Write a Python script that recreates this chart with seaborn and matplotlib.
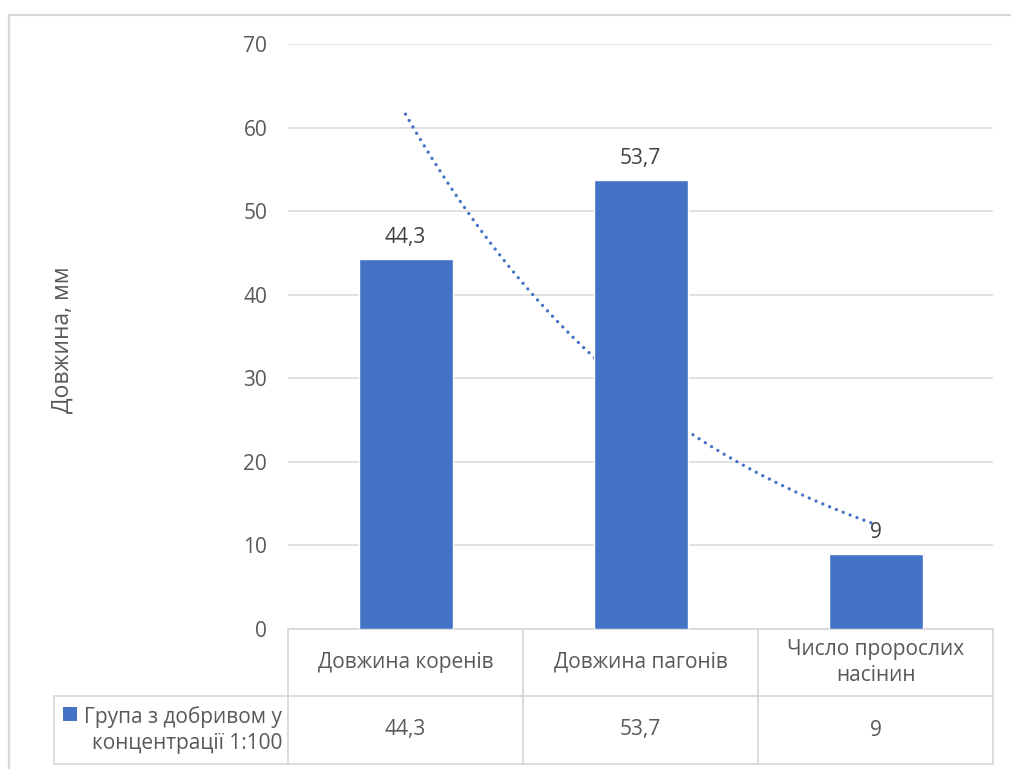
import numpy as np
import pandas as pd
import matplotlib
matplotlib.use("Agg")
import matplotlib.pyplot as plt
import matplotlib.transforms as mtransforms
from matplotlib.lines import Line2D
from matplotlib.patches import Rectangle
import seaborn as sns

# ---- data ----
categories = ["Довжина коренів", "Довжина пагонів", "Число проросли\u0445\nнасінин"]
values = [44.3, 53.7, 9]
series_name = "Група з добривом у\nконцентрації 1:100"
y_ticks = [0, 10, 20, 30, 40, 50, 60, 70]
y_label = "Довжина, мм"

BAR = "#4472C4"
TXT = "#595959"
GRID = "#D9D9D9"
FONT = ["Open Sans", "DejaVu Sans"]
FS = 15

sns.set_theme(style="white")
plt.rcParams["font.family"] = FONT

W, H = 1011, 769
fig = plt.figure(figsize=(W / 100, H / 100), dpi=100)
fig.patch.set_facecolor("white")

# plot area in pixels: x 288..993, y 44..629
L, R, T, B = 288, 993, 44, 629
ax = fig.add_axes([L / W, 1 - B / H, (R - L) / W, (B - T) / H])

def fy(py):
    return 1 - py / H

def fx(px):
    return px / W

def fmt(v):
    return f"{v:g}".replace(".", ",")

df = pd.DataFrame({"category": categories, "value": values})
sns.barplot(data=df, x="category", y="value", color=BAR, saturation=1,
            width=0.4, errorbar=None, ax=ax, zorder=3)

# exponential trendline fitted to the bar values
xi = np.arange(len(values))
b, a = np.polyfit(xi, np.log(values), 1)
xs = np.linspace(0, len(values) - 1, 200)
ax.plot(xs, np.exp(a + b * xs), color=BAR, lw=2.4,
        linestyle=(0, (0.01, 2.2)), dash_capstyle="round", zorder=2.5)

# value labels
ax.bar_label(ax.containers[0], labels=[fmt(v) for v in values],
             padding=8, fontsize=FS, color="#404040", zorder=5)

ax.set_xlim(-0.5, len(values) - 0.5)
ax.set_ylim(0, 70)
ax.set_yticks(y_ticks)
ax.set_yticklabels([str(t) for t in y_ticks], fontsize=FS, color=TXT)
ax.tick_params(axis="y", length=0, pad=15)
ax.set_xticks([])
ax.set_xlabel("")
ax.set_ylabel("")
ax.set_axisbelow(True)
ax.yaxis.grid(True, color=GRID, lw=1.1)
for s in ax.spines.values():
    s.set_visible(False)

# y-axis title
fig.text(fx(63), fy((T + B) / 2 + 3), y_label, rotation=90, ha="center",
         va="center", fontsize=16.5, color=TXT)

# ---- data table under the plot ----
tr = mtransforms.blended_transform_factory(ax.transData, fig.transFigure)
row1_top, row1_bot, row2_bot = 629, 696, 764
tbl_left_px = 54
edges = np.arange(len(values) + 1) - 0.5
lw_tbl = 1.3

# horizontal lines spanning the value columns
for py in (row1_top, row1_bot, row2_bot):
    ax.add_line(Line2D([edges[0], edges[-1]], [fy(py), fy(py)], transform=tr,
                       color=GRID, lw=lw_tbl, clip_on=False, zorder=1))
# series-name cell extends left
for py in (row1_bot, row2_bot):
    fig.add_artist(Line2D([fx(tbl_left_px), fx(L)], [fy(py), fy(py)],
                          color=GRID, lw=lw_tbl))
fig.add_artist(Line2D([fx(tbl_left_px), fx(tbl_left_px)], [fy(row1_bot), fy(row2_bot)],
                      color=GRID, lw=lw_tbl))
# vertical column lines
for e in edges:
    ax.add_line(Line2D([e, e], [fy(row1_top), fy(row2_bot)], transform=tr,
                       color=GRID, lw=lw_tbl, clip_on=False, zorder=1))

# header and value cells
for i, (c, v) in enumerate(zip(categories, values)):
    ax.text(i, fy((row1_top + row1_bot) / 2), c, transform=tr, ha="center",
            va="center", fontsize=FS, color=TXT, linespacing=1.3)
    ax.text(i, fy((row1_bot + row2_bot) / 2), fmt(v), transform=tr, ha="center",
            va="center", fontsize=FS, color=TXT)

# legend key and series name
fig.add_artist(Rectangle((fx(63), fy(721)), 14 / W, 14 / H,
                         transform=fig.transFigure, facecolor=BAR, edgecolor="none"))
fig.text(fx(282), fy((row1_bot + row2_bot) / 2), series_name, ha="right",
         va="center", multialignment="right", fontsize=FS, color=TXT,
         linespacing=1.35)

# chart frame
fig.add_artist(Line2D([fx(9), fx(9)], [fy(15), 0], color=GRID, lw=1.6))
fig.add_artist(Line2D([fx(9), 1], [fy(15), fy(15)], color=GRID, lw=1.6))

fig.savefig("out.png", dpi=100, facecolor="white")
